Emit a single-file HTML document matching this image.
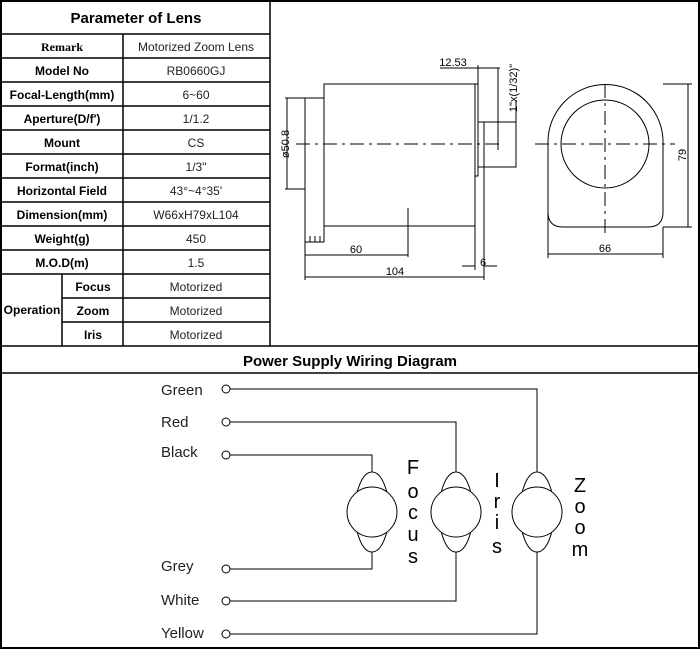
<!DOCTYPE html>
<html><head><meta charset="utf-8"><style>
body{margin:0;background:#fff}
svg{display:block}
.b{font-family:"Liberation Sans",Arial,sans-serif;font-weight:bold;font-size:12px;fill:#000}
.v{font-family:"Liberation Sans",Arial,sans-serif;font-size:12px;fill:#222}
.w{font-family:"Liberation Sans",Arial,sans-serif;font-size:15px;fill:#222}
.m{font-family:"Liberation Sans",Arial,sans-serif;font-size:20px;fill:#000}
.d{font-family:"Liberation Sans",Arial,sans-serif;font-size:11px;fill:#000}
</style></head><body>
<svg width="700" height="649" viewBox="0 0 700 649" xmlns="http://www.w3.org/2000/svg">
<rect x="1" y="1" width="698" height="647" fill="#fff" stroke="#000" stroke-width="2"/>
<g stroke="#000" stroke-width="1.5" fill="none">
<line x1="270" y1="0" x2="270" y2="346"/>
<line x1="0" y1="346" x2="700" y2="346"/>
<line x1="0" y1="373" x2="700" y2="373"/>
<line x1="0" y1="34" x2="270" y2="34"/>
<line x1="0" y1="58" x2="270" y2="58"/><line x1="0" y1="82" x2="270" y2="82"/>
<line x1="0" y1="106" x2="270" y2="106"/><line x1="0" y1="130" x2="270" y2="130"/>
<line x1="0" y1="154" x2="270" y2="154"/><line x1="0" y1="178" x2="270" y2="178"/>
<line x1="0" y1="202" x2="270" y2="202"/><line x1="0" y1="226" x2="270" y2="226"/>
<line x1="0" y1="250" x2="270" y2="250"/><line x1="0" y1="274" x2="270" y2="274"/>
<line x1="62" y1="298" x2="270" y2="298"/><line x1="62" y1="322" x2="270" y2="322"/>
<line x1="123" y1="34" x2="123" y2="346"/><line x1="62" y1="274" x2="62" y2="346"/>
</g>
<text x="136" y="23" text-anchor="middle" class="b" style="font-size:15px">Parameter of Lens</text>
<text x="62" y="51" text-anchor="middle" class="b" style="font-family:'Liberation Serif',serif">Remark</text>
<g class="b" text-anchor="middle">
<text x="62" y="75">Model No</text><text x="62" y="99">Focal-Length(mm)</text>
<text x="62" y="123">Aperture(D/f')</text><text x="62" y="147">Mount</text>
<text x="62" y="171">Format(inch)</text><text x="62" y="195">Horizontal Field</text>
<text x="62" y="219">Dimension(mm)</text><text x="62" y="243">Weight(g)</text>
<text x="62" y="267">M.O.D(m)</text><text x="32" y="314">Operation</text>
<text x="93" y="291">Focus</text><text x="93" y="315">Zoom</text><text x="93" y="339">Iris</text>
</g>
<g class="v" text-anchor="middle">
<text x="196" y="51">Motorized Zoom Lens</text><text x="196" y="75">RB0660GJ</text>
<text x="196" y="99">6~60</text><text x="196" y="123">1/1.2</text>
<text x="196" y="147">CS</text><text x="196" y="171">1/3"</text>
<text x="196" y="195">43°~4°35'</text><text x="196" y="219">W66xH79xL104</text>
<text x="196" y="243">450</text><text x="196" y="267">1.5</text>
<text x="196" y="291">Motorized</text><text x="196" y="315">Motorized</text><text x="196" y="339">Motorized</text>
</g>
<text x="350" y="366" text-anchor="middle" class="b" style="font-size:15px">Power Supply Wiring Diagram</text>

<!-- drawing -->
<g stroke="#000" stroke-width="1" fill="none">
<rect x="324" y="84" width="151" height="142"/>
<polyline points="324,98 305,98 305,242 324,242 324,226"/>
<path d="M310,242v-6M315,242v-6M320,242v-6"/>
<rect x="475" y="84" width="3" height="92"/>
<rect x="478" y="122" width="6" height="45"/>
<rect x="484" y="122" width="32" height="45"/>
<line x1="296" y1="144" x2="500" y2="144" stroke-dasharray="14,5,3,5"/>
<line x1="287" y1="98" x2="287" y2="189"/><line x1="285" y1="98" x2="305" y2="98"/><line x1="285" y1="189" x2="305" y2="189"/>
<line x1="305" y1="255" x2="408" y2="255"/><line x1="408" y1="208" x2="408" y2="257"/>
<line x1="305" y1="277" x2="484" y2="277"/><line x1="305" y1="242" x2="305" y2="280"/>
<line x1="475" y1="226" x2="475" y2="270"/><line x1="484" y1="167" x2="484" y2="280"/>
<line x1="462" y1="266" x2="475" y2="266"/><line x1="484" y1="266" x2="497" y2="266"/>
<line x1="440" y1="68" x2="500" y2="68"/><line x1="478" y1="65" x2="478" y2="122"/><line x1="498" y1="68" x2="498" y2="150"/>
<line x1="516" y1="100" x2="516" y2="166"/>
<path d="M548,227V142A57.5,57.5 0 0 1 663,142V212Q663,227 648,227H563Q548,227 548,212"/>
<circle cx="605" cy="144" r="44"/>
<line x1="535" y1="144" x2="675" y2="144" stroke-dasharray="14,5,3,5"/>
<line x1="605" y1="84" x2="605" y2="235" stroke-dasharray="14,5,3,5"/>
<line x1="688" y1="84" x2="688" y2="227"/><line x1="663" y1="84" x2="692" y2="84"/><line x1="663" y1="227" x2="692" y2="227"/>
<line x1="548" y1="254" x2="663" y2="254"/><line x1="548" y1="227" x2="548" y2="258"/><line x1="663" y1="227" x2="663" y2="258"/>
</g>
<text class="d" transform="translate(289,144) rotate(-90)" text-anchor="middle">ø50.8</text>
<text class="d" x="356" y="253" text-anchor="middle">60</text>
<text class="d" x="395" y="275" text-anchor="middle">104</text>
<text class="d" x="480" y="266">6</text>
<text class="d" x="453" y="66" text-anchor="middle">12.53</text>
<text class="d" transform="translate(517,88) rotate(-90)" text-anchor="middle">1"x(1/32)"</text>
<text class="d" transform="translate(686,155) rotate(-90)" text-anchor="middle">79</text>
<text class="d" x="605" y="252" text-anchor="middle">66</text>

<!-- wiring -->
<g stroke="#000" stroke-width="1" fill="none">
<polyline points="230,389 537,389 537,472"/>
<polyline points="230,422 456,422 456,472"/>
<polyline points="230,455 372,455 372,472"/>
<polyline points="230,569 372,569 372,551"/>
<polyline points="230,601 456,601 456,551"/>
<polyline points="230,634 537,634 537,551"/>
<g fill="#fff">
<circle cx="226" cy="389" r="4"/><circle cx="226" cy="422" r="4"/><circle cx="226" cy="455" r="4"/>
<circle cx="226" cy="569" r="4"/><circle cx="226" cy="601" r="4"/><circle cx="226" cy="634" r="4"/>
<ellipse cx="372" cy="512" rx="17" ry="40"/><circle cx="372" cy="512" r="25"/>
<ellipse cx="456" cy="512" rx="17" ry="40"/><circle cx="456" cy="512" r="25"/>
<ellipse cx="537" cy="512" rx="17" ry="40"/><circle cx="537" cy="512" r="25"/>
</g>
</g>
<g class="w">
<text x="161" y="395">Green</text><text x="161" y="427">Red</text><text x="161" y="457">Black</text>
<text x="161" y="571">Grey</text><text x="161" y="605">White</text><text x="161" y="638">Yellow</text>
</g>
<g class="m" text-anchor="middle">
<text x="413" y="474">F</text><text x="413" y="498">o</text><text x="413" y="519">c</text><text x="413" y="541">u</text><text x="413" y="563">s</text>
<text x="497" y="487">I</text><text x="497" y="508">r</text><text x="497" y="529">i</text><text x="497" y="553">s</text>
<text x="580" y="492">Z</text><text x="580" y="513">o</text><text x="580" y="534">o</text><text x="580" y="556">m</text>
</g>
</svg>
</body></html>
